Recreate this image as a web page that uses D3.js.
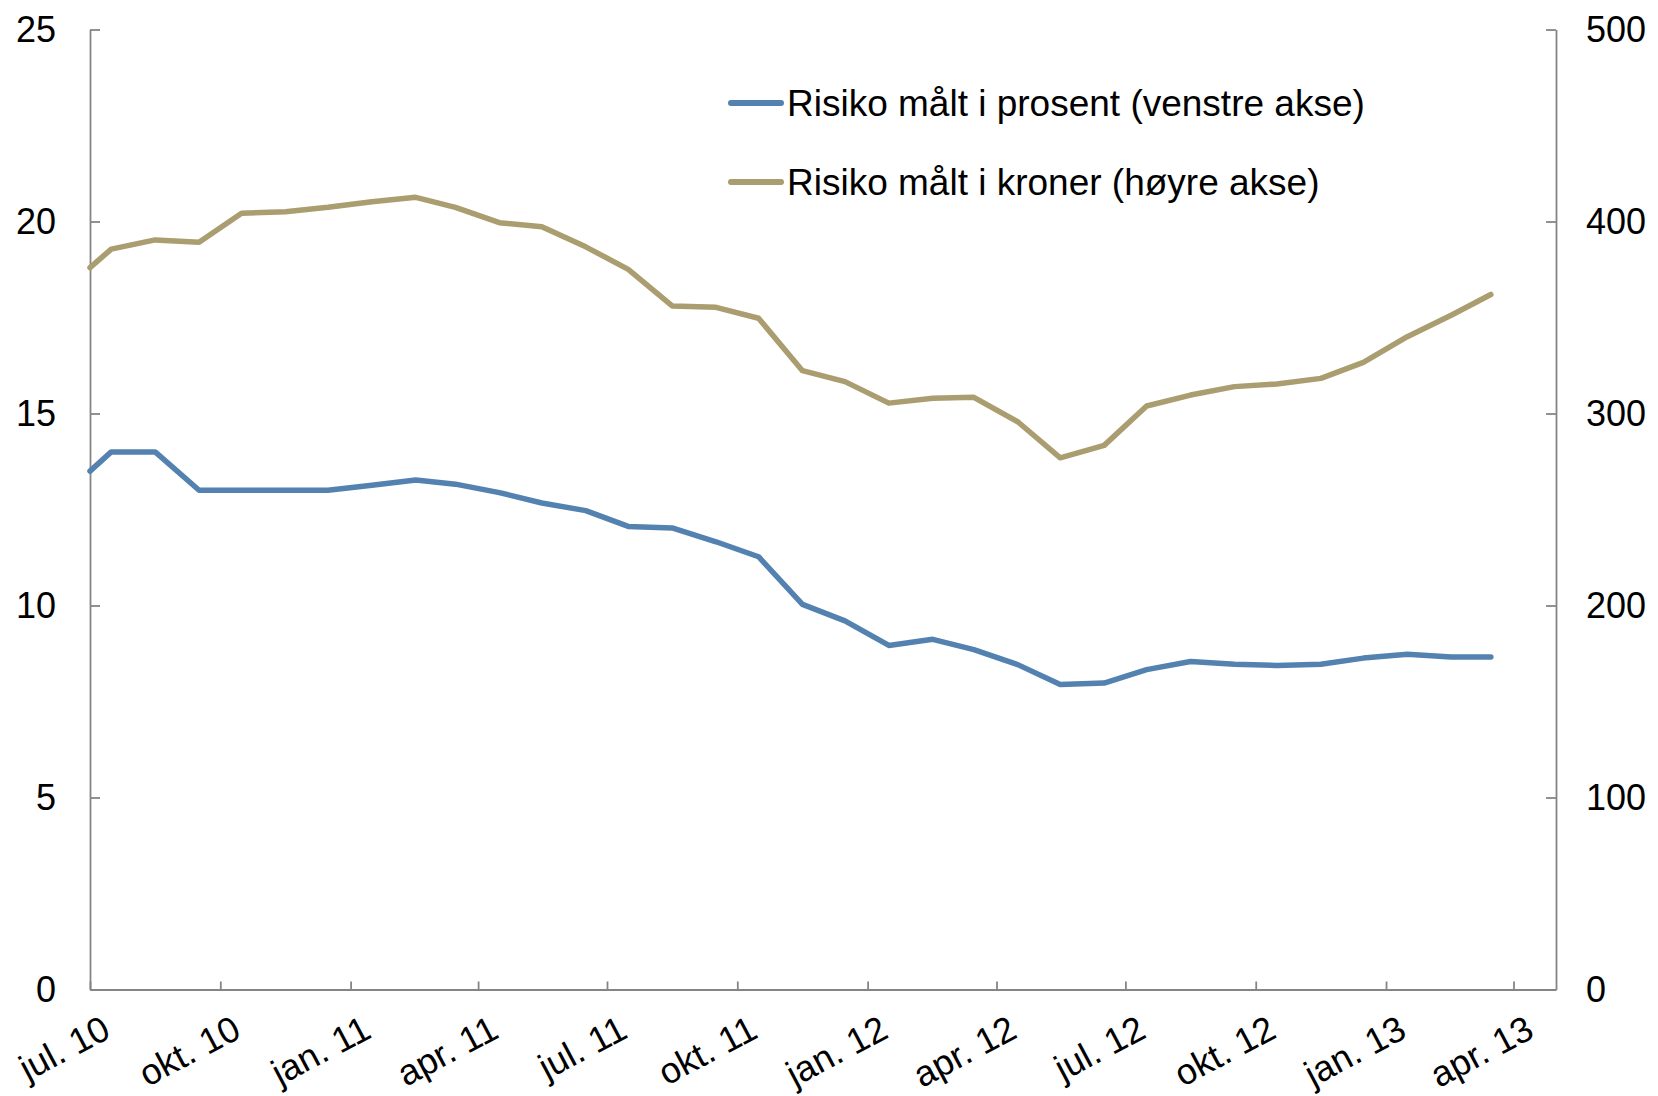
<!DOCTYPE html>
<html>
<head>
<meta charset="utf-8">
<script src="https://cdn.jsdelivr.net/npm/d3@7"></script>
<style>
  html, body { margin: 0; padding: 0; background: #fff; }
  svg { display: block; font-family: "Liberation Sans", Arial, sans-serif; }
</style>
</head>
<body>
<svg id="chart" width="1658" height="1096"></svg>
<script>
// ---- Data ----
const dates = [
  "2010-07-01", "2010-07-16", "2010-08-16", "2010-09-16", "2010-10-16", "2010-11-16", "2010-12-16",
  "2011-01-16", "2011-02-16", "2011-03-16", "2011-04-16", "2011-05-16", "2011-06-16",
  "2011-07-16", "2011-08-16", "2011-09-16", "2011-10-16", "2011-11-16", "2011-12-16",
  "2012-01-16", "2012-02-16", "2012-03-16", "2012-04-16", "2012-05-16", "2012-06-16",
  "2012-07-16", "2012-08-16", "2012-09-16", "2012-10-16", "2012-11-16", "2012-12-16",
  "2013-01-16", "2013-02-16", "2013-03-16"
];
const riskPercent = [
  13.5, 14.0, 14.0, 13.0, 13.0, 13.0, 13.0,
  13.13, 13.27, 13.16, 12.94, 12.67, 12.47,
  12.06, 12.02, 11.66, 11.27, 10.03, 9.6,
  8.96, 9.12, 8.85, 8.46, 7.94, 7.98,
  8.33, 8.54, 8.47, 8.44, 8.47, 8.63,
  8.73, 8.66, 8.66
];
const riskKroner = [
  376, 385.6, 390.4, 389.2, 404.3, 405.1, 407.4,
  410.3, 412.6, 407.4, 399.4, 397.3, 386.8,
  375.1, 356, 355.3, 349.6, 322.3, 316.6,
  305.4, 307.9, 308.4, 295.7, 276.9, 283.4,
  303.9, 309.6, 314, 315.4, 318.3, 326.6,
  340, 351.2, 362
];
const seriesNames = ["Risiko målt i prosent (venstre akse)", "Risiko målt i kroner (høyre akse)"];
const seriesColors = ["#5482b0", "#aa9d6f"];
const xTickDates = ["2010-07-01", "2010-10-01", "2011-01-01", "2011-04-01", "2011-07-01", "2011-10-01",
                    "2012-01-01", "2012-04-01", "2012-07-01", "2012-10-01", "2013-01-01", "2013-04-01"];
const xTickLabels = ["jul. 10", "okt. 10", "jan. 11", "apr. 11", "jul. 11", "okt. 11",
                     "jan. 12", "apr. 12", "jul. 12", "okt. 12", "jan. 13", "apr. 13"];
const leftTicks = [0, 5, 10, 15, 20, 25];
const rightTicks = [0, 100, 200, 300, 400, 500];
const xDomain = ["2010-07-01", "2013-05-01"];

// ---- Layout ----
const plot = { left: 90, right: 1556, top: 29.5, bottom: 989.5 };
const axisColor = "#858585";
const parse = d3.utcParse("%Y-%m-%d");

const svg = d3.select("#chart");

const x = d3.scaleUtc().domain(xDomain.map(parse)).range([plot.left, plot.right]);
const yL = d3.scaleLinear().domain([0, 25]).range([plot.bottom, plot.top]);
const yR = d3.scaleLinear().domain([0, 500]).range([plot.bottom, plot.top]);

const data = dates.map((d, i) => ({ date: parse(d), p: riskPercent[i], k: riskKroner[i] }));

// Axes
function styleAxis(g) {
  g.selectAll("path.domain").attr("stroke", axisColor).attr("stroke-width", 1.8);
  g.selectAll(".tick line").attr("stroke", axisColor).attr("stroke-width", 1.8);
  g.selectAll(".tick text").attr("fill", "#000").style("font-size", "36px")
    .style("font-family", '"Liberation Sans", Arial, sans-serif');
}

svg.append("g")
  .attr("transform", `translate(${plot.left},0)`)
  .call(d3.axisLeft(yL).tickValues(leftTicks).tickSize(-10).tickSizeOuter(0).tickPadding(34))
  .call(styleAxis);

svg.append("g")
  .attr("transform", `translate(${plot.right},0)`)
  .call(d3.axisRight(yR).tickValues(rightTicks).tickSize(-10).tickSizeOuter(0).tickPadding(30))
  .call(styleAxis)
  .selectAll(".tick text").attr("text-anchor", "start");

const xAxisG = svg.append("g")
  .attr("transform", `translate(0,${plot.bottom})`)
  .call(d3.axisBottom(x).tickValues(xTickDates.map(parse)).tickSize(-8).tickSizeOuter(0)
    .tickFormat((d, i) => xTickLabels[i]))
  .call(styleAxis);

xAxisG.selectAll(".tick text")
  .attr("text-anchor", "end")
  .attr("dy", null)
  .attr("y", null)
  .attr("transform", "translate(22,47) rotate(-28)");

// Lines
const lineP = d3.line().x(d => x(d.date)).y(d => yL(d.p));
const lineK = d3.line().x(d => x(d.date)).y(d => yR(d.k));

svg.append("path").datum(data)
  .attr("d", lineK).attr("fill", "none")
  .attr("stroke", seriesColors[1]).attr("stroke-width", 5.5)
  .attr("stroke-linejoin", "round").attr("stroke-linecap", "round");

svg.append("path").datum(data)
  .attr("d", lineP).attr("fill", "none")
  .attr("stroke", seriesColors[0]).attr("stroke-width", 5.5)
  .attr("stroke-linejoin", "round").attr("stroke-linecap", "round");

// Legend
const legend = svg.append("g").attr("transform", "translate(731,103)");
seriesNames.forEach((name, i) => {
  const g = legend.append("g").attr("transform", `translate(0,${i * 79})`);
  g.append("line").attr("x1", 0).attr("x2", 50).attr("y1", 0).attr("y2", 0)
    .attr("stroke", seriesColors[i]).attr("stroke-width", 6).attr("stroke-linecap", "round");
  g.append("text").attr("x", 56).attr("y", 12.5)
    .style("font-size", "37px").attr("fill", "#000").text(name);
});
</script>
</body>
</html>
